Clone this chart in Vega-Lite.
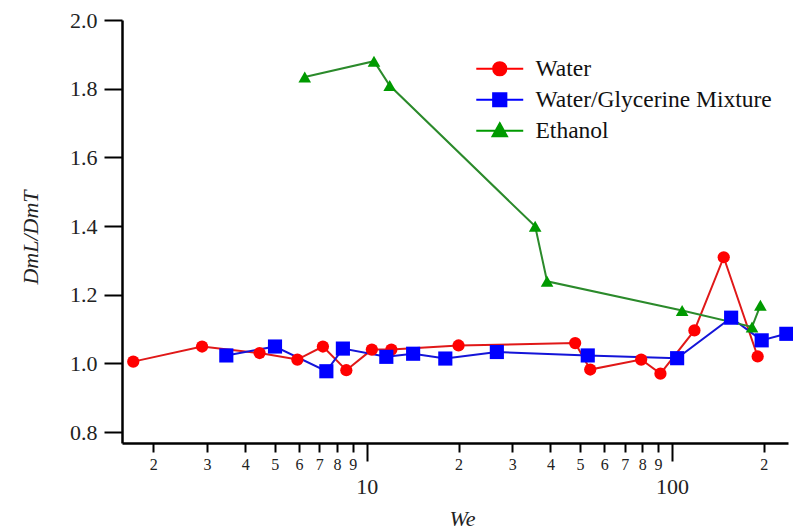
{
  "$schema": "https://vega.github.io/schema/vega-lite/v6.json",
  "width": 666,
  "height": 423,
  "autosize": "none",
  "padding": {"left": 122, "top": 20, "right": 5, "bottom": 88},
  "background": "white",
  "config": {
    "view": {"stroke": null},
    "font": "Liberation Serif"
  },
  "data": {
    "values": [
      {"series": "Water", "We": 1.72, "ratio": 1.005},
      {"series": "Water", "We": 2.89, "ratio": 1.049},
      {"series": "Water", "We": 4.46, "ratio": 1.030},
      {"series": "Water", "We": 5.93, "ratio": 1.011},
      {"series": "Water", "We": 7.19, "ratio": 1.049},
      {"series": "Water", "We": 8.58, "ratio": 0.980},
      {"series": "Water", "We": 10.4, "ratio": 1.040},
      {"series": "Water", "We": 12.05, "ratio": 1.040},
      {"series": "Water", "We": 20.0, "ratio": 1.052},
      {"series": "Water", "We": 48.2, "ratio": 1.059},
      {"series": "Water", "We": 54.0, "ratio": 0.982},
      {"series": "Water", "We": 79.3, "ratio": 1.011},
      {"series": "Water", "We": 91.7, "ratio": 0.970},
      {"series": "Water", "We": 118.5, "ratio": 1.096},
      {"series": "Water", "We": 147.8, "ratio": 1.309},
      {"series": "Water", "We": 190.9, "ratio": 1.020},
      {"series": "Water/Glycerine Mixture", "We": 3.47, "ratio": 1.023},
      {"series": "Water/Glycerine Mixture", "We": 5.01, "ratio": 1.049},
      {"series": "Water/Glycerine Mixture", "We": 7.38, "ratio": 0.977},
      {"series": "Water/Glycerine Mixture", "We": 8.36, "ratio": 1.043},
      {"series": "Water/Glycerine Mixture", "We": 11.6, "ratio": 1.019},
      {"series": "Water/Glycerine Mixture", "We": 14.2, "ratio": 1.028},
      {"series": "Water/Glycerine Mixture", "We": 18.1, "ratio": 1.014},
      {"series": "Water/Glycerine Mixture", "We": 26.7, "ratio": 1.033},
      {"series": "Water/Glycerine Mixture", "We": 53.0, "ratio": 1.023},
      {"series": "Water/Glycerine Mixture", "We": 104, "ratio": 1.015},
      {"series": "Water/Glycerine Mixture", "We": 156.3, "ratio": 1.133},
      {"series": "Water/Glycerine Mixture", "We": 196.8, "ratio": 1.067},
      {"series": "Water/Glycerine Mixture", "We": 237, "ratio": 1.086},
      {"series": "Ethanol", "We": 6.27, "ratio": 1.834},
      {"series": "Ethanol", "We": 10.57, "ratio": 1.880},
      {"series": "Ethanol", "We": 11.9, "ratio": 1.809},
      {"series": "Ethanol", "We": 35.65, "ratio": 1.399},
      {"series": "Ethanol", "We": 39.0, "ratio": 1.239},
      {"series": "Ethanol", "We": 108, "ratio": 1.154},
      {"series": "Ethanol", "We": 183, "ratio": 1.106},
      {"series": "Ethanol", "We": 194.9, "ratio": 1.169}
    ]
  },
  "encoding": {
    "x": {
      "field": "We",
      "type": "quantitative",
      "scale": {"type": "log", "domain": [1.58, 240], "nice": false},
      "axis": {
        "values": [2, 3, 4, 5, 6, 7, 8, 9, 10, 20, 30, 40, 50, 60, 70, 80, 90, 100, 200],
        "labelExpr": "datum.value == 10 ? '10' : datum.value == 100 ? '100' : substring(toString(datum.value), 0, 1)",
        "labelFont": "Liberation Serif",
        "labelFontSize": {"condition": {"test": "datum.value == 10 || datum.value == 100", "value": 22}, "value": 16},
        "labelPadding": {"condition": {"test": "datum.value == 10 || datum.value == 100", "value": 15}, "value": 4},
        "tickSize": {"condition": {"test": "datum.value == 10 || datum.value == 100", "value": 18}, "value": 9},
        "labelColor": "#222222",
        "labelBaseline": "top",
        "labelAlign": "center",
        "labelOverlap": false,
        "labelFlush": false,
        "tickWidth": 2,
        "tickColor": "#000000",
        "domainWidth": 2.5,
        "domainColor": "#000000",
        "grid": false,
        "title": "We",
        "titleFont": "Liberation Serif",
        "titleFontStyle": "italic",
        "titleFontWeight": "normal",
        "titleFontSize": 22,
        "titleColor": "#222222",
        "titleX": 340,
        "titleY": 75,
        "titleBaseline": "middle"
      }
    },
    "y": {
      "field": "ratio",
      "type": "quantitative",
      "scale": {"domain": [0.768, 2.0], "nice": false, "zero": false},
      "axis": {
        "values": [0.8, 1.0, 1.2, 1.4, 1.6, 1.8, 2.0],
        "format": ".1f",
        "labelFont": "Liberation Serif",
        "labelFontSize": 22,
        "labelColor": "#222222",
        "labelPadding": 7,
        "tickSize": 18,
        "tickWidth": 2,
        "tickColor": "#000000",
        "domainWidth": 2.5,
        "domainColor": "#000000",
        "grid": false,
        "title": "DmL/DmT",
        "titleFont": "Liberation Serif",
        "titleFontStyle": "italic",
        "titleFontWeight": "normal",
        "titleFontSize": 22,
        "titleColor": "#222222",
        "titleX": -92,
        "titleY": 217,
        "titleAlign": "center",
        "titleBaseline": "middle"
      }
    }
  },
  "layer": [
    {
      "transform": [{"filter": "datum.series == 'Water'"}],
      "mark": {"type": "line", "color": "#e01818", "strokeWidth": 2}
    },
    {
      "transform": [{"filter": "datum.series == 'Water/Glycerine Mixture'"}],
      "mark": {"type": "line", "color": "#1414d8", "strokeWidth": 2}
    },
    {
      "transform": [{"filter": "datum.series == 'Ethanol'"}],
      "mark": {"type": "line", "color": "#2b8a2b", "strokeWidth": 2}
    },
    {
      "transform": [{"filter": "datum.series == 'Water'"}],
      "mark": {"type": "point", "shape": "circle", "filled": true, "color": "#ff0000", "size": 150, "opacity": 1}
    },
    {
      "transform": [{"filter": "datum.series == 'Water/Glycerine Mixture'"}],
      "mark": {"type": "point", "shape": "square", "filled": true, "color": "#0000ff", "size": 200, "opacity": 1}
    },
    {
      "transform": [{"filter": "datum.series == 'Ethanol'"}],
      "mark": {"type": "point", "shape": "triangle-up", "filled": true, "color": "#009a00", "size": 160, "opacity": 1}
    },
    {
      "mark": {"type": "point", "filled": true, "opacity": 0, "size": 10},
      "encoding": {
        "color": {
          "field": "series",
          "type": "nominal",
          "scale": {
            "domain": ["Water", "Water/Glycerine Mixture", "Ethanol"],
            "range": ["#ff0000", "#0000ff", "#009a00"]
          },
          "legend": {
            "title": null,
            "orient": "none",
            "legendX": 366,
            "legendY": 37,
            "padding": 0,
            "symbolSize": 180,
            "labelFont": "Liberation Serif",
            "labelFontSize": 23.5,
            "labelColor": "#111111",
            "labelOffset": 24,
            "labelLimit": 0,
            "rowPadding": 6,
            "symbolOpacity": 1,
            "symbolStrokeWidth": 1.8,
            "encode": {
              "symbols": {
                "update": {
                  "opacity": {"value": 1},
                  "fill": {"scale": "color", "field": "value"},
                  "stroke": {"scale": "color", "field": "value"},
                  "strokeWidth": {"value": 1.8}
                }
              }
            }
          }
        },
        "shape": {
          "field": "series",
          "type": "nominal",
          "scale": {
            "domain": ["Water", "Water/Glycerine Mixture", "Ethanol"],
            "range": [
              "M-3.5,0H3.5M-1,0A1,1,0,1,0,1,0A1,1,0,1,0,-1,0Z",
              "M-3.5,0H3.5M-1,-1H1V1H-1Z",
              "M-3.5,0H3.5M0,-1.15L1.1,0.85H-1.1Z"
            ]
          },
          "legend": {
            "title": null,
            "orient": "none",
            "legendX": 366,
            "legendY": 37,
            "padding": 0,
            "symbolSize": 180,
            "labelFont": "Liberation Serif",
            "labelFontSize": 23.5,
            "labelColor": "#111111",
            "labelOffset": 24,
            "labelLimit": 0,
            "rowPadding": 6
          }
        }
      }
    }
  ]
}
